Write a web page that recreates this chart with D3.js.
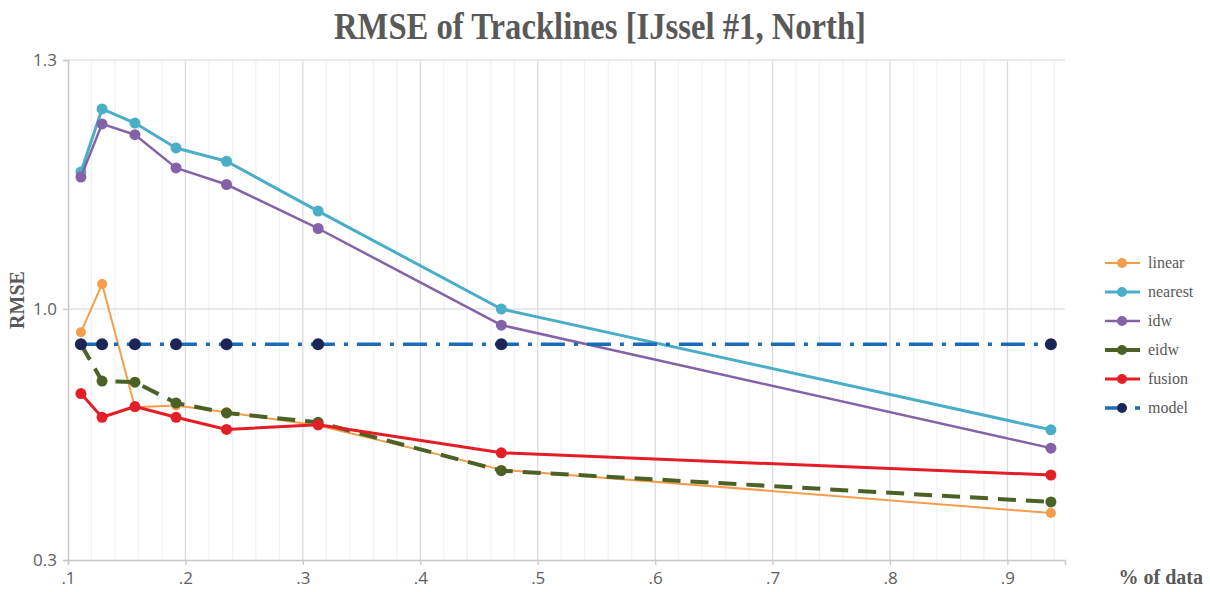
<!DOCTYPE html>
<html>
<head>
<meta charset="utf-8">
<script src="https://cdn.jsdelivr.net/npm/d3@7"></script>
<style>
  html, body { margin: 0; padding: 0; background: #fff; }
  svg { display: block; }
</style>
</head>
<body>
<svg id="chart" width="1210" height="592"></svg>
<script>
// Fraction of data used for each run
const dataShare = [0.111, 0.129, 0.157, 0.192, 0.235, 0.313, 0.469, 0.937];

// RMSE per interpolation method
const linear  = [0.935, 1.030, 0.726, 0.731, 0.712, 0.675, 0.552, 0.431];
const nearest = [1.165, 1.241, 1.224, 1.194, 1.178, 1.118, 1.000, 0.663];
const idw     = [1.159, 1.223, 1.210, 1.170, 1.150, 1.097, 0.955, 0.612];
const eidw    = [0.902, 0.799, 0.796, 0.738, 0.710, 0.684, 0.549, 0.462];
const fusion  = [0.764, 0.698, 0.728, 0.698, 0.664, 0.677, 0.599, 0.537];
const model   = [0.902, 0.902, 0.902, 0.902, 0.902, 0.902, 0.902, 0.902];

const seriesNames = ["linear", "nearest", "idw", "eidw", "fusion", "model"];
const xTicks = [0.1, 0.2, 0.3, 0.4, 0.5, 0.6, 0.7, 0.8, 0.9];
const yTicks = [0.3, 1.0, 1.3];

const series = [
  { name: "linear",  values: linear,  line: "#f59d4a", dot: "#f59d4a", width: 2,   r: 5,   dash: null },
  { name: "nearest", values: nearest, line: "#4aaec8", dot: "#4aaec8", width: 3,   r: 5.5, dash: null },
  { name: "idw",     values: idw,     line: "#8462a8", dot: "#8462a8", width: 2.5, r: 5.5, dash: null },
  { name: "eidw",    values: eidw,    line: "#4c6126", dot: "#4c6126", width: 4,   r: 5.5, dash: "18,10" },
  { name: "fusion",  values: fusion,  line: "#e41e26", dot: "#e41e26", width: 3,   r: 5.5, dash: null },
  { name: "model",   values: model,   line: "#1a6cb8", dot: "#1c2558", width: 3.5, r: 6,   dash: "24,9,4,9" }
];

const svg = d3.select("#chart");
const plotLeft = 68, plotRight = 1065, plotTop = 60, plotBottom = 560;

const x = d3.scaleLinear().domain([0.1, 0.949]).range([plotLeft, plotRight]);
const y = d3.scaleLinear().domain([0.3, 1.0, 1.3]).range([plotBottom, 309, plotTop]);

// Title
svg.append("text")
  .attr("x", 600).attr("y", 39)
  .attr("text-anchor", "middle")
  .attr("font-family", "Liberation Serif, Times New Roman, serif")
  .attr("font-weight", "bold")
  .attr("font-size", 37)
  .attr("textLength", 532)
  .attr("lengthAdjust", "spacingAndGlyphs")
  .attr("fill", "#595959")
  .text("RMSE of Tracklines [IJssel #1, North]");

// Minor vertical gridlines every 0.02
const minor = d3.range(0.12, 0.949, 0.02).filter(v => Math.abs(v * 10 - Math.round(v * 10)) > 1e-6);
svg.append("g").selectAll("line").data(minor).join("line")
  .attr("x1", d => x(d)).attr("x2", d => x(d))
  .attr("y1", plotTop).attr("y2", plotBottom)
  .attr("stroke", "#f1f1f1").attr("stroke-width", 1.2);

// Major vertical gridlines
svg.append("g").selectAll("line").data(xTicks.slice(1)).join("line")
  .attr("x1", d => x(d)).attr("x2", d => x(d))
  .attr("y1", plotTop).attr("y2", plotBottom)
  .attr("stroke", "#dcdcdc").attr("stroke-width", 1.3);

// Horizontal gridlines
svg.append("g").selectAll("line").data(yTicks.slice(1)).join("line")
  .attr("x1", plotLeft).attr("x2", plotRight)
  .attr("y1", d => y(d)).attr("y2", d => y(d))
  .attr("stroke", "#e3e3e3").attr("stroke-width", 1.3);

// Axes
const xAxis = d3.axisBottom(x).tickValues(xTicks)
  .tickFormat(d => d3.format(".1f")(d).replace(/^0/, ""))
  .tickSize(5).tickPadding(7);
const gx = svg.append("g").attr("transform", `translate(0,${plotBottom})`).call(xAxis);
gx.select(".domain").attr("stroke", "#c8c8c8").attr("stroke-width", 1.5);
gx.selectAll(".tick line").attr("stroke", "#c8c8c8").attr("stroke-width", 1.3);
gx.selectAll(".tick text").attr("fill", "#606060")
  .attr("font-family", "Open Sans, DejaVu Sans, sans-serif").attr("font-size", 17);

const yAxis = d3.axisLeft(y).tickValues(yTicks)
  .tickFormat(d3.format(".1f"))
  .tickSize(5).tickPadding(6);
const gy = svg.append("g").attr("transform", `translate(${plotLeft},0)`).call(yAxis);
gy.select(".domain").attr("stroke", "#c8c8c8").attr("stroke-width", 1.5);
gy.selectAll(".tick line").attr("stroke", "#c8c8c8").attr("stroke-width", 1.3);
gy.selectAll(".tick text").attr("fill", "#606060")
  .attr("font-family", "Open Sans, DejaVu Sans, sans-serif").attr("font-size", 17);

// Axis titles
svg.append("text")
  .attr("transform", "translate(24,300) rotate(-90)")
  .attr("text-anchor", "middle")
  .attr("font-family", "Liberation Serif, Times New Roman, serif")
  .attr("font-weight", "bold").attr("font-size", 20)
  .attr("fill", "#595959")
  .text("RMSE");

svg.append("text")
  .attr("x", 1203).attr("y", 584)
  .attr("text-anchor", "end")
  .attr("font-family", "Liberation Serif, Times New Roman, serif")
  .attr("font-weight", "bold").attr("font-size", 20)
  .attr("fill", "#595959")
  .text("% of data");

// Series lines and markers
const lineGen = d3.line().x(d => x(d[0])).y(d => y(d[1]));
const plot = svg.append("g");
series.forEach(s => {
  const pts = dataShare.map((v, i) => [v, s.values[i]]);
  const g = plot.append("g");
  g.append("path")
    .attr("d", lineGen(pts))
    .attr("fill", "none")
    .attr("stroke", s.line)
    .attr("stroke-width", s.width)
    .attr("stroke-linejoin", "round")
    .attr("stroke-dasharray", s.dash);
  g.selectAll("circle").data(pts).join("circle")
    .attr("cx", d => x(d[0])).attr("cy", d => y(d[1]))
    .attr("r", s.r).attr("fill", s.dot);
});

// Legend
const legend = svg.append("g");
series.forEach((s, i) => {
  const ly = 263 + i * 29;
  const g = legend.append("g");
  if (s.name === "model") {
    g.append("line").attr("x1", 1105).attr("x2", 1122).attr("y1", ly).attr("y2", ly)
      .attr("stroke", s.line).attr("stroke-width", s.width);
    g.append("line").attr("x1", 1135).attr("x2", 1140).attr("y1", ly).attr("y2", ly)
      .attr("stroke", s.line).attr("stroke-width", s.width);
  } else {
    g.append("line").attr("x1", 1105).attr("x2", 1140).attr("y1", ly).attr("y2", ly)
      .attr("stroke", s.line).attr("stroke-width", s.width);
  }
  g.append("circle").attr("cx", 1122).attr("cy", ly).attr("r", 5).attr("fill", s.dot);
  g.append("text")
    .attr("x", 1148).attr("y", ly + 5)
    .attr("font-family", "Liberation Serif, Times New Roman, serif")
    .attr("font-size", 16)
    .attr("fill", "#595959")
    .text(seriesNames[i]);
});
</script>
</body>
</html>
